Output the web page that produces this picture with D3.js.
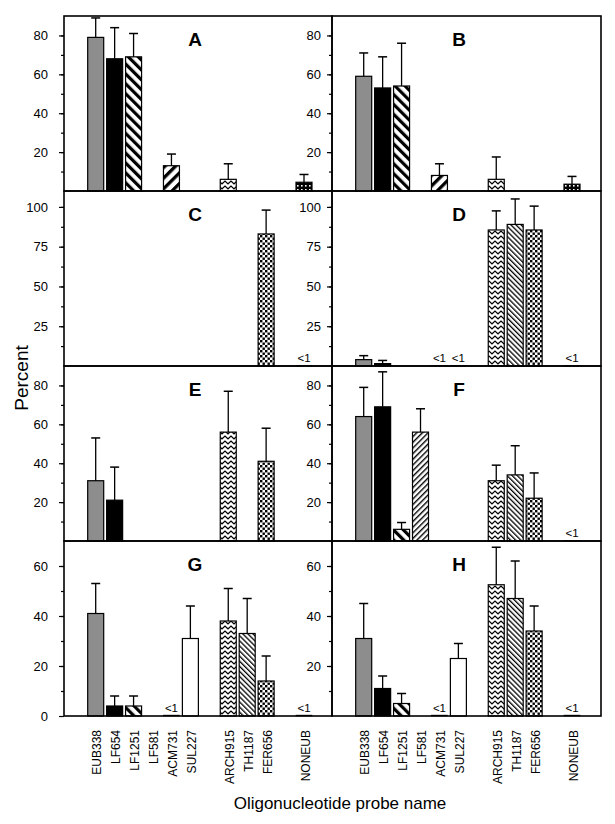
<!DOCTYPE html>
<html><head><meta charset="utf-8">
<script src="https://cdn.jsdelivr.net/npm/d3@7"></script>
<style>
body{margin:0;background:#fff}
text{font-family:Arial,"Liberation Sans",Helvetica,sans-serif;fill:#000}
</style>
</head><body>
<svg id="c" width="615" height="824"></svg>
<script>
// ---------- DATA ----------
const probes = ["EUB338","LF654","LF1251","LF581","ACM731","SUL227","ARCH915","TH1187","FER656","NONEUB"];
const slots = ["EUB338","LF654","LF1251","LF581","ACM731","SUL227","gap1","ARCH915","TH1187","FER656","gap2","NONEUB"];
const panelLetters = ["A","B","C","D","E","F","G","H"];
// values follow the order of `probes`; null = no bar; "<1" = below 1 %
const valuesA = [79, 68, 69, null, 13, null, 6, null, null, 4.5];
const errorsA = [10, 16, 12, null, 6, null, 8, null, null, 4];
const valuesB = [59, 53, 54, null, 8, null, 6, null, null, 3.5];
const errorsB = [12, 16, 22, null, 6, null, 11.5, null, null, 4];
const valuesC = [null, null, null, null, null, null, null, null, 83, "<1"];
const errorsC = [null, null, null, null, null, null, null, null, 15, null];
const valuesD = [4, 1.5, null, null, "<1", "<1", 85.5, 89, 85.5, "<1"];
const errorsD = [2.5, 2, null, null, null, null, 12, 16, 15, null];
const valuesE = [31, 21, null, null, null, null, 56, null, 41, null];
const errorsE = [22, 17, null, null, null, null, 21, null, 17, null];
const valuesF = [64, 69, 6, 56, null, null, 31, 34, 22, "<1"];
const errorsF = [15, 18, 3.5, 12, null, null, 8, 15, 13, null];
const valuesG = [41, 4, 4, null, "<1", 31, 38, 33, 14, "<1"];
const errorsG = [12, 4, 4, null, null, 13, 13, 14, 10, null];
const valuesH = [31, 11, 5, null, "<1", 23, 52.5, 47, 34, "<1"];
const errorsH = [14, 5, 4, null, null, 6, 15, 15, 10, null];
const panelValues = [valuesA, valuesB, valuesC, valuesD, valuesE, valuesF, valuesG, valuesH];
const panelErrors = [errorsA, errorsB, errorsC, errorsD, errorsE, errorsF, errorsG, errorsH];
const rowMax = [90, 110, 90, 70];
const rowTickLabels = [[20,40,60,80],[25,50,75,100],[20,40,60,80],[0,20,40,60]];
const rightTickLabels = [[20,40,60,80],[25,50,75,100],[20,40,60,80],[20,40,60]];
const rowMinorStep = [10, 12.5, 10, 10];
const yTitle = "Percent";
const xTitle = "Oligonucleotide probe name";

// ---------- LAYOUT ----------
const colX = [64, 332, 601];
const rowY = [16, 191, 366, 541, 716];
const letterX = [195, 459];

const svg = d3.select("#c");
const defs = svg.append("defs");

function stripes(id, size, w, angle) {
  const p = defs.append("pattern").attr("id", id).attr("patternUnits", "userSpaceOnUse")
    .attr("width", size).attr("height", size).attr("patternTransform", `rotate(${angle})`);
  p.append("rect").attr("width", size).attr("height", size).attr("fill", "#fff");
  p.append("rect").attr("width", w).attr("height", size).attr("fill", "#000");
}
stripes("pLF1251", 7, 3.2, -45);
stripes("pACM731", 7.5, 3.3, 45);
stripes("pLF581", 4, 1.4, 45);
stripes("pTH1187", 3.6, 1.3, -45);
{
  const z = defs.append("pattern").attr("id", "pARCH").attr("patternUnits", "userSpaceOnUse")
    .attr("width", 6).attr("height", 5);
  z.append("rect").attr("width", 6).attr("height", 5).attr("fill", "#fff");
  z.append("path").attr("d", "M-0.5,4.3 L3,1 L6.5,4.3").attr("fill", "none")
    .attr("stroke", "#000").attr("stroke-width", 1.2);
}
{
  const f = defs.append("pattern").attr("id", "pFER").attr("patternUnits", "userSpaceOnUse")
    .attr("width", 5).attr("height", 5);
  f.append("rect").attr("width", 5).attr("height", 5).attr("fill", "#fff");
  f.append("rect").attr("x", 0).attr("y", 0).attr("width", 2.4).attr("height", 2.4).attr("fill", "#000");
  f.append("rect").attr("x", 2.5).attr("y", 2.5).attr("width", 2.4).attr("height", 2.4).attr("fill", "#000");
}
{
  const n = defs.append("pattern").attr("id", "pNON").attr("patternUnits", "userSpaceOnUse")
    .attr("width", 4).attr("height", 4);
  n.append("rect").attr("width", 4).attr("height", 4).attr("fill", "#000");
  n.append("rect").attr("x", 1).attr("y", 1).attr("width", 1.6).attr("height", 1.6).attr("fill", "#fff");
}
const probeFill = {
  EUB338: "#8d8d8d", LF654: "#000", LF1251: "url(#pLF1251)", LF581: "url(#pLF581)",
  ACM731: "url(#pACM731)", SUL227: "#fff", ARCH915: "url(#pARCH)", TH1187: "url(#pTH1187)",
  FER656: "url(#pFER)", NONEUB: "url(#pNON)"
};

const barW = 16, capW = 9;

panelValues.forEach((vals, pi) => {
  const col = pi % 2, row = Math.floor(pi / 2);
  const x0 = colX[col], x1 = colX[col + 1];
  const y0 = rowY[row], y1 = rowY[row + 1];
  const x = d3.scalePoint().domain(slots).range([x0 + 31.7, x0 + 240]);
  const y = d3.scaleLinear().domain([0, rowMax[row]]).range([y1, y0]);
  const g = svg.append("g");
  const data = probes.map((p, i) => ({ probe: p, v: vals[i], e: panelErrors[pi][i] }))
    .filter(d => d.v !== null);

  // bars
  data.forEach(d => {
    const lt = d.v === "<1";
    const val = lt ? 0.35 : d.v;
    const cx = x(d.probe);
    g.append("rect").attr("x", cx - barW / 2).attr("y", y(val))
      .attr("width", barW).attr("height", y(0) - y(val))
      .attr("fill", lt ? "#000" : probeFill[d.probe])
      .attr("stroke", "#000").attr("stroke-width", lt ? 0.6 : 1.2);
    if (lt) {
      g.append("text").attr("x", cx).attr("y", y(0) - 4).attr("text-anchor", "middle")
        .attr("font-size", 11.5).text("<1");
    }
    if (d.e !== null && !lt) {
      const top = y(val + d.e);
      g.append("line").attr("x1", cx).attr("x2", cx).attr("y1", y(val)).attr("y2", top)
        .attr("stroke", "#000").attr("stroke-width", 1.3);
      g.append("line").attr("x1", cx - capW / 2).attr("x2", cx + capW / 2).attr("y1", top).attr("y2", top)
        .attr("stroke", "#000").attr("stroke-width", 1.5);
    }
  });

  // frame
  g.append("rect").attr("x", x0).attr("y", y0).attr("width", x1 - x0).attr("height", y1 - y0)
    .attr("fill", "none").attr("stroke", "#000").attr("stroke-width", 1.6);

  // y axis ticks
  const minor = d3.range(rowMinorStep[row], rowMax[row], rowMinorStep[row]);
  const ax = g.append("g").attr("transform", `translate(${x0},0)`)
    .call(d3.axisLeft(y).tickValues(minor).tickSize(3).tickFormat(""));
  ax.select(".domain").remove();
  ax.selectAll("line").attr("stroke-width", 1.2);
  const labs = col === 0 ? rowTickLabels[row] : rightTickLabels[row];
  const labAx = g.append("g").attr("transform", `translate(${x0},0)`)
    .call(d3.axisLeft(y).tickValues(labs).tickSize(5).tickPadding(col === 0 ? 11 : 6).tickFormat(d3.format("d")));
  labAx.select(".domain").remove();
  labAx.selectAll("line").attr("stroke-width", 1.2);
  labAx.selectAll("text").attr("font-size", 13).attr("font-family", "Arial, 'Liberation Sans', sans-serif");

  // panel letter
  g.append("text").attr("x", letterX[col]).attr("y", y0 + 30).attr("text-anchor", "middle")
    .attr("font-size", 19).attr("font-weight", "bold").text(panelLetters[pi]);

  // x labels under bottom row
  if (row === 3) {
    probes.forEach(p => {
      g.append("text").attr("transform", `translate(${x(p) + 1.5},730) rotate(-90)`)
        .attr("text-anchor", "end").attr("dy", "0.35em").attr("font-size", 12).text(p);
    });
  }
});

svg.append("text").attr("transform", "translate(21,378) rotate(-90)").attr("text-anchor", "middle")
  .attr("dy", "0.35em").attr("font-size", 19).text(yTitle);
svg.append("text").attr("x", 340).attr("y", 809).attr("text-anchor", "middle")
  .attr("font-size", 17).text(xTitle);
</script>
</body></html>
